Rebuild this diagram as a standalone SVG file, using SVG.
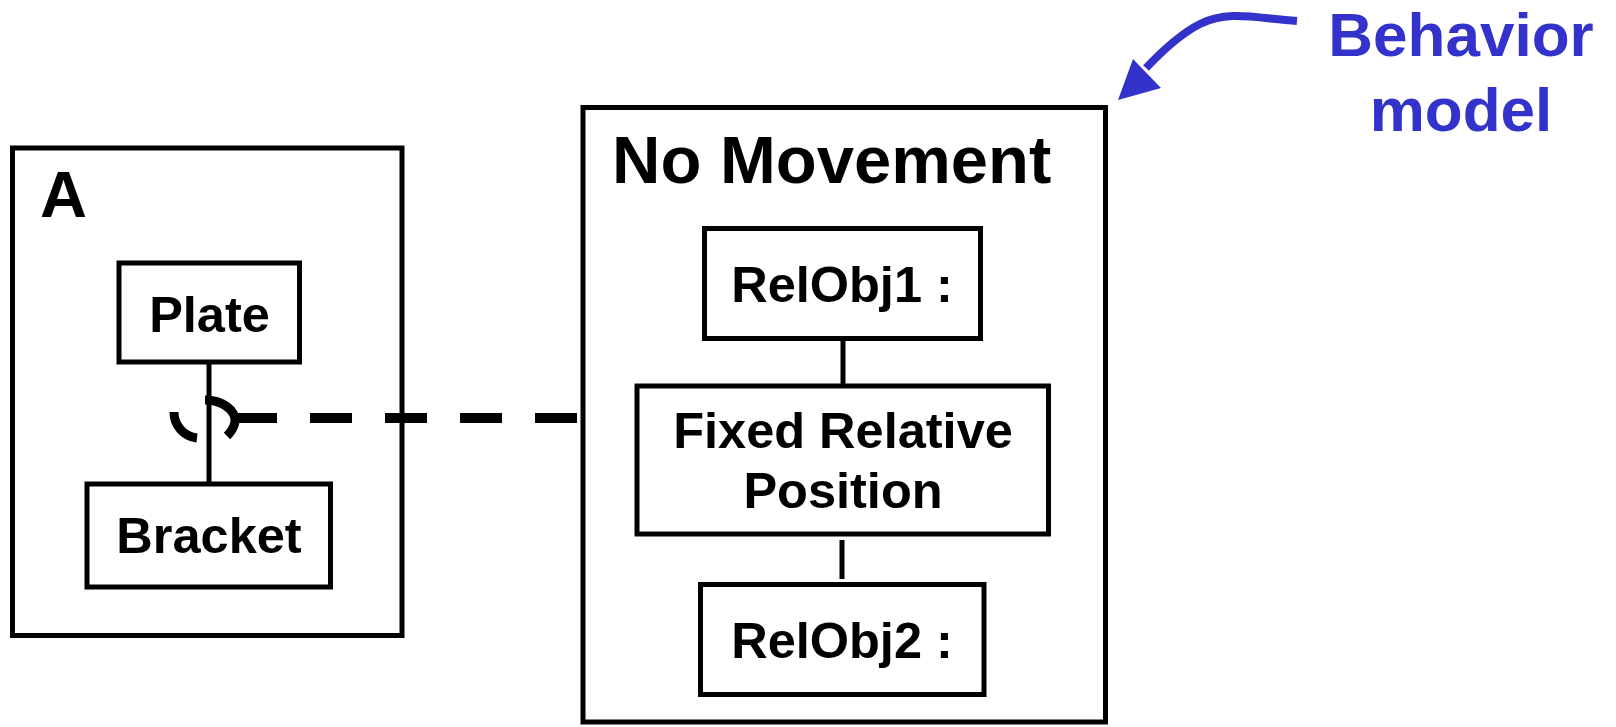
<svg xmlns="http://www.w3.org/2000/svg" width="1616" height="727" viewBox="0 0 1616 727">
  <style>
    .box { fill: #ffffff; stroke: #000000; stroke-width: 5; }
    .frame { fill: none; stroke: #000000; stroke-width: 5; }
    .lbl { font-family: "Liberation Sans", Arial, Helvetica, sans-serif; font-weight: bold; fill: #000000; }
    .node { font-size: 50.5px; text-anchor: middle; }
    .title { font-size: 67px; }
    .link { fill: none; stroke: #000000; stroke-width: 5; }
    .dash { fill: none; stroke: #000000; stroke-width: 10; stroke-dasharray: 42 33; }
    .joint { fill: none; stroke: #000000; stroke-width: 9; }
    .note { font-family: "Liberation Sans", Arial, Helvetica, sans-serif; font-weight: bold; font-size: 62px; fill: #3333cc; text-anchor: middle; }
  </style>
  <rect width="1616" height="727" fill="#ffffff"/>

  <!-- assembly A -->
  <g id="assembly-a">
    <rect class="frame" x="12.5" y="148" width="389.5" height="487.5"/>
    <text class="lbl" x="40" y="217" font-size="65">A</text>
  </g>
  <g id="plate">
    <rect class="box" x="119" y="263" width="180.5" height="99"/>
    <text class="lbl node" x="209.5" y="332">Plate</text>
  </g>
  <g id="bracket">
    <rect class="box" x="87" y="484" width="243.5" height="103"/>
    <text class="lbl node" x="209" y="553">Bracket</text>
  </g>

  <!-- behavior: No Movement -->
  <g id="no-movement">
    <rect class="frame" x="583" y="107.5" width="522.5" height="614.5"/>
    <text class="lbl title" x="612" y="183">No Movement</text>
  </g>
  <g id="relobj1">
    <rect class="box" x="704.5" y="228.5" width="276" height="110"/>
    <text class="lbl node" x="842" y="302">RelObj1 :</text>
  </g>
  <g id="fixed-relative-position">
    <rect class="box" x="637" y="386" width="411.5" height="148"/>
    <text class="lbl node" x="843" y="448">Fixed Relative</text>
    <text class="lbl node" x="843" y="508">Position</text>
  </g>
  <g id="relobj2">
    <rect class="box" x="700.5" y="584.5" width="283.5" height="110"/>
    <text class="lbl node" x="842" y="658">RelObj2 :</text>
  </g>

  <!-- behavior model callout -->
  <g id="behavior-model">
    <text class="note" x="1461" y="56">Behavior</text>
    <text class="note" x="1461" y="131">model</text>
  </g>

  <!-- connectors -->
  <g id="connectors">
    <line class="link" x1="209" y1="362" x2="209" y2="484"/>
    <line class="dash" x1="235" y1="418" x2="577" y2="418"/>
    <!-- ball-and-socket joint on the Plate/Bracket link -->
    <path class="joint" d="M205,400 C222,400 236,410 235,422 C234,428 231,432 227,436"/>
    <path class="joint" d="M174,412 A26,26 0 0 0 197,438"/>
    <line class="link" x1="843" y1="338.5" x2="843" y2="386"/>
    <line class="link" x1="842" y1="540" x2="842" y2="579"/>
    <!-- callout arrow -->
    <path d="M1297,21 C1255,18 1228,10 1200,24 C1182,33 1165,48 1146,68" fill="none" stroke="#3333cc" stroke-width="8"/>
    <polygon points="1118,100 1133,59 1161,88" fill="#3333cc"/>
  </g>
</svg>
